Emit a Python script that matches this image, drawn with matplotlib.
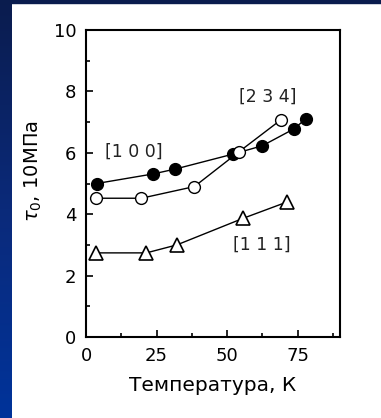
import numpy as np
import matplotlib
matplotlib.use('Agg')
import matplotlib.pyplot as plt
from matplotlib.colors import LinearSegmentedColormap
from matplotlib.ticker import MultipleLocator

plt.rcParams['font.family'] = ['DejaVu Sans']

# [1 0 0] - filled circles
t_100 = [3.8, 23.7, 31.6, 52.2, 62.5, 73.7, 77.8]
tau_100 = [5.0, 5.31, 5.47, 5.96, 6.23, 6.78, 7.10]

# [2 3 4] - open circles
t_234 = [3.5, 19.6, 38.4, 54.3, 69.0]
tau_234 = [4.52, 4.52, 4.90, 6.04, 7.07]

# [1 1 1] - open triangles
t_111 = [3.5, 21.4, 32.2, 55.5, 71.3]
tau_111 = [2.74, 2.74, 3.0, 3.86, 4.40]

labels = ['[1 0 0]', '[2 3 4]', '[1 1 1]']
label_pos = [(17.1, 6.04), (64.3, 7.83), (62.2, 3.0)]

fig = plt.figure(figsize=(3.81, 4.18), dpi=100, facecolor='white')

# blue slide frame: gradient strip on the left, dark strip on top
bg = fig.add_axes([0, 0, 12 / 381, 1])
cmap = LinearSegmentedColormap.from_list('slide', ['#0a1c4e', '#0b2a7a', '#00339a'])
bg.imshow(np.linspace(0, 1, 256).reshape(-1, 1), aspect='auto', cmap=cmap,
          extent=[0, 1, 0, 1], origin='upper')
bg.axis('off')
fig.patches.append(plt.Rectangle((0, 1 - 3 / 418), 1, 3 / 418, transform=fig.transFigure,
                                 color='#0a1c4e', zorder=0))

ax = fig.add_axes([86 / 381, 1 - 337 / 418, 254 / 381, 307 / 418])

ax.plot(t_100, tau_100, '-o', color='black', lw=1.0, ms=8.5,
        mfc='black', mec='black', mew=1.0)
ax.plot(t_234, tau_234, '-o', color='black', lw=1.0, ms=8.5,
        mfc='white', mec='black', mew=1.0, zorder=3)
ax.plot(t_111, tau_111, '-^', color='black', lw=1.0, ms=10,
        mfc='white', mec='black', mew=1.2)

for txt, (x, y) in zip(labels, label_pos):
    ax.text(x, y, txt, fontsize=12.5, ha='center', va='center', color='#222222')

ax.set_xlim(0, 90)
ax.set_ylim(0, 10)
ax.xaxis.set_major_locator(MultipleLocator(25))
ax.xaxis.set_minor_locator(MultipleLocator(12.5))
ax.yaxis.set_major_locator(MultipleLocator(2))
ax.yaxis.set_minor_locator(MultipleLocator(1))
ax.tick_params(which='both', direction='in', width=1.2, labelsize=13, colors='black', pad=7)
ax.tick_params(which='major', length=5)
ax.tick_params(which='minor', length=3)
for s in ax.spines.values():
    s.set_linewidth(1.5)

ax.set_xlabel('Температура, К', fontsize=14.5, labelpad=8)
ax.set_ylabel(r'$\tau_0$, 10МПа', fontsize=14)
ax.yaxis.set_label_coords(-0.165, 0.54)

fig.savefig('out.png', dpi=100, facecolor='white')
